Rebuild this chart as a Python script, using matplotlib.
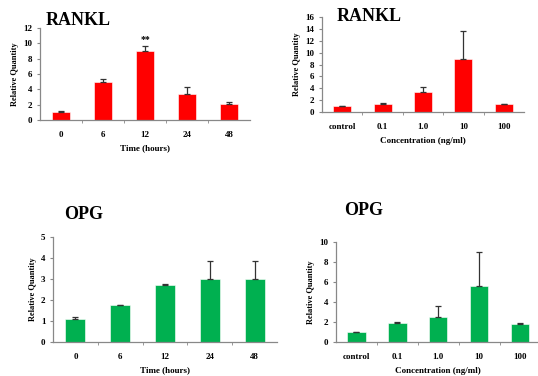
import matplotlib.pyplot as plt
import numpy as np

plt.rcParams['font.family'] = ['Liberation Serif', 'DejaVu Serif']
plt.rcParams['font.weight'] = 'bold'

# data
time_labels = ['0', '6', '12', '24', '48']
conc_labels = ['control', '0.1', '1.0', '10', '100']

rankl_time = [1.1, 5.0, 9.0, 3.4, 2.1]
rankl_time_err = [0.1, 0.3, 0.6, 0.9, 0.3]

rankl_conc = [1.0, 1.4, 3.3, 9.0, 1.3]
rankl_conc_err = [0.05, 0.2, 0.9, 4.6, 0.1]

opg_time = [1.1, 1.75, 2.72, 3.0, 3.0]
opg_time_err = [0.1, 0.02, 0.05, 0.85, 0.85]

opg_conc = [1.0, 1.95, 2.55, 5.6, 1.8]
opg_conc_err = [0.02, 0.05, 1.1, 3.4, 0.1]

RED = '#ff0000'
GREEN = '#00b050'

fig = plt.figure(figsize=(5.38, 3.76), dpi=100)


def panel(rect, labels, vals, errs, color, ymax, ystep, title, title_xy, xlabel):
    ax = fig.add_axes(rect)
    x = np.arange(len(labels))
    ax.bar(x, vals, width=0.45, color=color, edgecolor='white', linewidth=0.4,
           yerr=[np.zeros(len(errs)), errs], capsize=2.5,
           error_kw=dict(ecolor='#333333', elinewidth=0.9, capthick=0.9))
    ax.set_xlim(-0.5, len(labels) - 0.5)
    ax.set_ylim(0, ymax)
    ax.set_yticks(np.arange(0, ymax + 0.01, ystep))
    ax.set_xticks(x)
    ax.set_xticklabels(labels)
    ax.set_xticks(np.arange(0.5, len(labels) - 0.5, 1), minor=True)
    ax.tick_params(axis='x', which='major', length=0, pad=8, labelsize=6.5)
    ax.tick_params(axis='x', which='minor', length=2.5, color='#888888', direction='out')
    ax.tick_params(axis='y', length=2.5, color='#888888', labelsize=6.5, pad=3)
    for s in ['top', 'right']:
        ax.spines[s].set_visible(False)
    for s in ['left', 'bottom']:
        ax.spines[s].set_color('#888888')
        ax.spines[s].set_linewidth(0.9)
    ax.set_ylabel('Relative Quantity', fontsize=6, fontweight='bold', labelpad=3)
    ax.set_xlabel(xlabel, fontsize=6.5, fontweight='bold', labelpad=4)
    fig.text(title_xy[0], title_xy[1], title, fontsize=13, fontweight='bold',
             ha='left', va='center')
    return ax


ax1 = panel([0.0743, 0.681, 0.3904, 0.2445], time_labels, rankl_time, rankl_time_err,
            RED, 12, 2, 'RANKL', (0.085, 0.945), 'Time (hours)')
ax1.text(2, rankl_time[2] + rankl_time_err[2] + 0.3, '**', ha='center', va='bottom',
         fontsize=7, fontweight='bold')

panel([0.5985, 0.702, 0.3755, 0.2528], conc_labels, rankl_conc, rankl_conc_err,
      RED, 16, 2, 'RANKL', (0.625, 0.955), 'Concentration (ng/ml)')

panel([0.0985, 0.0904, 0.4164, 0.2793], time_labels, opg_time, opg_time_err,
      GREEN, 5, 1, 'OPG', (0.12, 0.43), 'Time (hours)')

panel([0.6245, 0.0904, 0.38, 0.266], conc_labels, opg_conc, opg_conc_err,
      GREEN, 10, 2, 'OPG', (0.64, 0.44), 'Concentration (ng/ml)')

fig.savefig('out.png', dpi=100)
